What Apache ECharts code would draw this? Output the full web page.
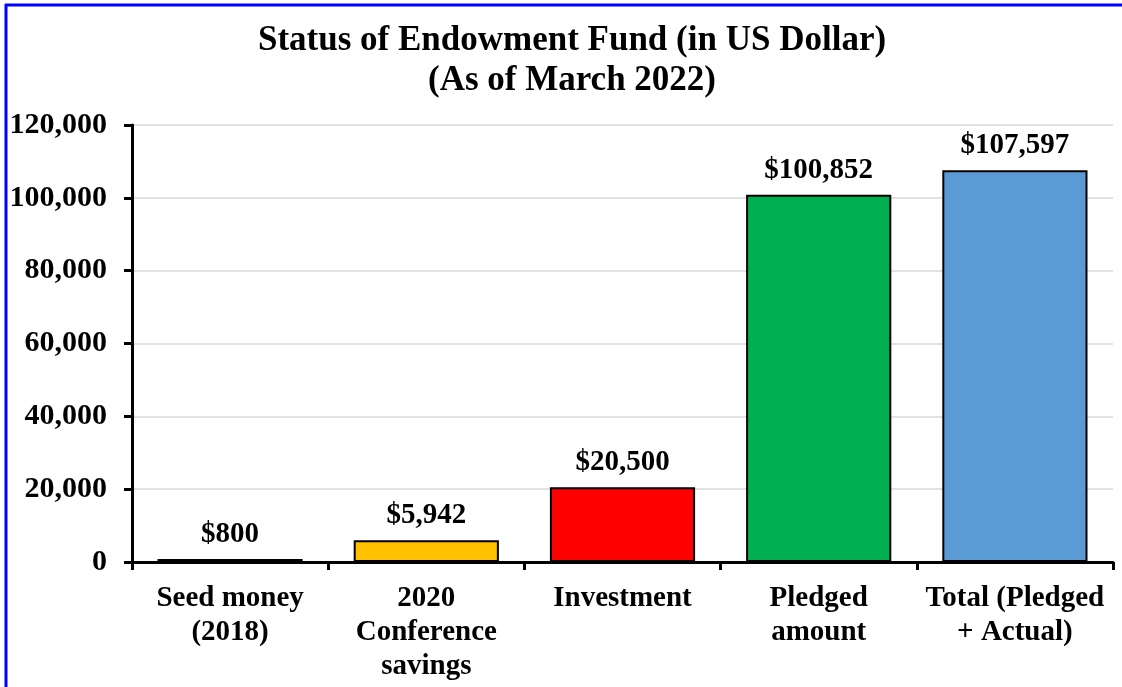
<!DOCTYPE html>
<html><head><meta charset="utf-8">
<script src="https://cdn.jsdelivr.net/npm/echarts@6/dist/echarts.min.js"></script>
<style>html,body{margin:0;padding:0;background:#fff}#c{width:1122px;height:687px}</style>
</head><body><div id="c"></div>
<script>
const categories = ['Seed money\n(2018)', '2020\nConference\nsavings', 'Investment', 'Pledged\namount', 'Total (Pledged\n+ Actual)'];
const values = [800, 5942, 20500, 100852, 107597];
const colors = ['#000000', '#FFC000', '#FF0000', '#00B050', '#5B9BD5'];
const yTicks = [0, 20000, 40000, 60000, 80000, 100000, 120000];

const font = '"Liberation Serif", "Times New Roman", serif';
const chart = echarts.init(document.getElementById('c'), null, {renderer: 'canvas'});
chart.setOption({
  animation: false,
  backgroundColor: '#fff',
  title: {
    text: 'Status of Endowment Fund (in US Dollar)\n(As of March 2022)',
    left: 567, top: 16, textAlign: 'center',
    textStyle: {fontFamily: font, fontWeight: 'bold', fontSize: 35, color: '#000', lineHeight: 40}
  },
  graphic: [
    {type: 'line', shape: {x1: 5, y1: 5, x2: 1122, y2: 5}, style: {stroke: '#0000ff', lineWidth: 3}},
    {type: 'line', shape: {x1: 6, y1: 4, x2: 6, y2: 687}, style: {stroke: '#0000ff', lineWidth: 3}}
  ],
  grid: {left: 132, right: 9, top: 125, bottom: 125, containLabel: false},
  xAxis: {
    type: 'category', data: categories,
    axisLine: {lineStyle: {color: '#000', width: 3}},
    axisTick: {show: true, length: 8, lineStyle: {color: '#000', width: 3}},
    axisLabel: {fontFamily: font, fontWeight: 'bold', fontSize: 29, color: '#000', lineHeight: 34, margin: 20, interval: 0}
  },
  yAxis: {
    type: 'value', min: yTicks[0], max: yTicks[yTicks.length - 1], interval: 20000,
    axisLine: {show: true, lineStyle: {color: '#000', width: 3}},
    axisTick: {show: true, length: 8, lineStyle: {color: '#000', width: 3}},
    splitLine: {lineStyle: {color: '#d9d9d9', width: 1.5}},
    axisLabel: {fontFamily: font, fontWeight: 'bold', fontSize: 30, color: '#000', margin: 25,
      formatter: v => v.toLocaleString('en-US')}
  },
  series: [{
    type: 'bar',
    data: values.map((v, i) => ({value: v, itemStyle: {color: colors[i]}})),
    barCategoryGap: '26%',
    itemStyle: {borderColor: '#000', borderWidth: 2},
    label: {show: true, position: 'top', distance: 10, fontFamily: font, fontWeight: 'bold', fontSize: 29, color: '#000',
      formatter: p => '$' + p.value.toLocaleString('en-US')}
  }]
});
</script></body></html>
